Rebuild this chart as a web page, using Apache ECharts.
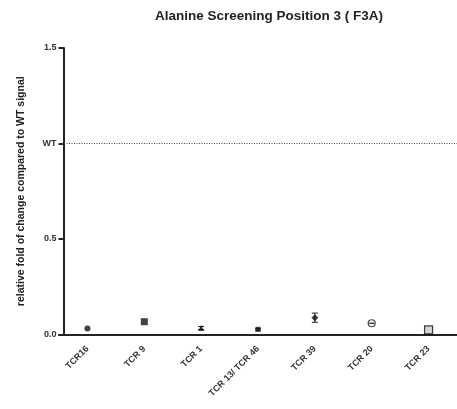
<!DOCTYPE html>
<html><head><meta charset="utf-8">
<script src="https://cdn.jsdelivr.net/npm/echarts@6/dist/echarts.min.js"></script>
<style>html,body{margin:0;padding:0;background:#fff}#c{width:457px;height:409px}</style>
</head><body><div id="c"></div>
<script>
var categories = ['TCR16', 'TCR 9', 'TCR 1', 'TCR 13/ TCR 46', 'TCR 39', 'TCR 20', 'TCR 23'];
var values = [0.031, 0.067, 0.034, 0.027, 0.088, 0.059, 0.024];
var errors = [0, 0, 0.008, 0.005, 0.024, 0, 0];
var yTickLabels = {'0': '0.0', '0.5': '0.5', '1': 'WT', '1.5': '1.5'};
var wtLevel = 1.0;

var symbols = ['circle', 'rect', 'triangle', 'rect', 'diamond', 'circle', 'rect'];
var sizes = [6, 7, 6, 5, 7, 7, 8];
var fills = ['#111', '#111', '#111', '#111', '#111', '#fff', '#ccc'];

var font = '"Liberation Sans", Arial, sans-serif';
var chart = echarts.init(document.getElementById('c'));
chart.setOption({
  animation: false,
  backgroundColor: '#fff',
  title: {
    text: 'Alanine Screening Position 3 ( F3A)',
    left: 264, top: 4, textAlign: 'center',
    textStyle: {fontFamily: font, fontWeight: 'bold', fontSize: 13.5, color: '#222'}
  },
  grid: {left: 59, top: 48, width: 409.5, bottom: 74.5},
  xAxis: {
    type: 'category', data: categories, boundaryGap: true,
    axisLine: {lineStyle: {color: '#222', width: 2}},
    axisTick: {alignWithLabel: true, length: 6, lineStyle: {color: '#222', width: 2}},
    axisLabel: {rotate: 45, margin: 13, fontFamily: font, fontWeight: 'bold', fontSize: 9, color: '#333', interval: 0},
    splitLine: {show: false}
  },
  yAxis: {
    type: 'value', min: 0, max: 1.5, interval: 0.5, offset: -4.5,
    name: 'relative fold of change compared to WT signal',
    nameLocation: 'middle', nameGap: 37, nameRotate: 90,
    nameTextStyle: {fontFamily: font, fontWeight: 'bold', fontSize: 10.5, color: '#222'},
    axisLine: {show: true, lineStyle: {color: '#222', width: 2}},
    axisTick: {show: true, length: 5, lineStyle: {color: '#222', width: 2}},
    axisLabel: {margin: 7, fontFamily: font, fontWeight: 'bold', fontSize: 9, color: '#333',
      formatter: function (v) { return yTickLabels[String(v)] || ''; }},
    splitLine: {show: false}
  },
  series: [
    {
      type: 'custom',
      data: values.map(function (v, i) { return [i, v - errors[i], v + errors[i], errors[i]]; }),
      renderItem: function (params, api) {
        if (api.value(3) <= 0) return null;
        var lo = api.coord([api.value(0), api.value(1)]);
        var hi = api.coord([api.value(0), api.value(2)]);
        var x = lo[0], w = 3;
        var st = {stroke: '#222', lineWidth: 1};
        return {type: 'group', children: [
          {type: 'line', shape: {x1: x, y1: lo[1], x2: x, y2: hi[1]}, style: st},
          {type: 'line', shape: {x1: x - w, y1: lo[1], x2: x + w, y2: lo[1]}, style: st},
          {type: 'line', shape: {x1: x - w, y1: hi[1], x2: x + w, y2: hi[1]}, style: st}
        ]};
      },
      z: 3
    },
    {
      type: 'scatter',
      data: values.map(function (v, i) {
        return {value: [i, v], symbol: symbols[i], symbolSize: sizes[i],
          itemStyle: {color: fills[i], borderColor: '#111', borderWidth: fills[i] === '#111' ? 0 : 1.2}};
      }),
      z: 4,
      markLine: {
        silent: true, symbol: 'none', label: {show: false},
        lineStyle: {type: [1, 1.5], color: '#444', width: 1},
        data: [{yAxis: wtLevel}]
      }
    },
    {
      type: 'custom',
      data: values.map(function (v, i) { return [i, v, i === 5 ? 1 : 0]; }),
      renderItem: function (params, api) {
        if (!api.value(2)) return null;
        var p = api.coord([api.value(0), api.value(1)]);
        return {type: 'line', shape: {x1: p[0] - 2.5, y1: p[1], x2: p[0] + 2.5, y2: p[1]}, style: {stroke: '#111', lineWidth: 1.2}};
      },
      z: 5
    }
  ]
});
</script></body></html>
